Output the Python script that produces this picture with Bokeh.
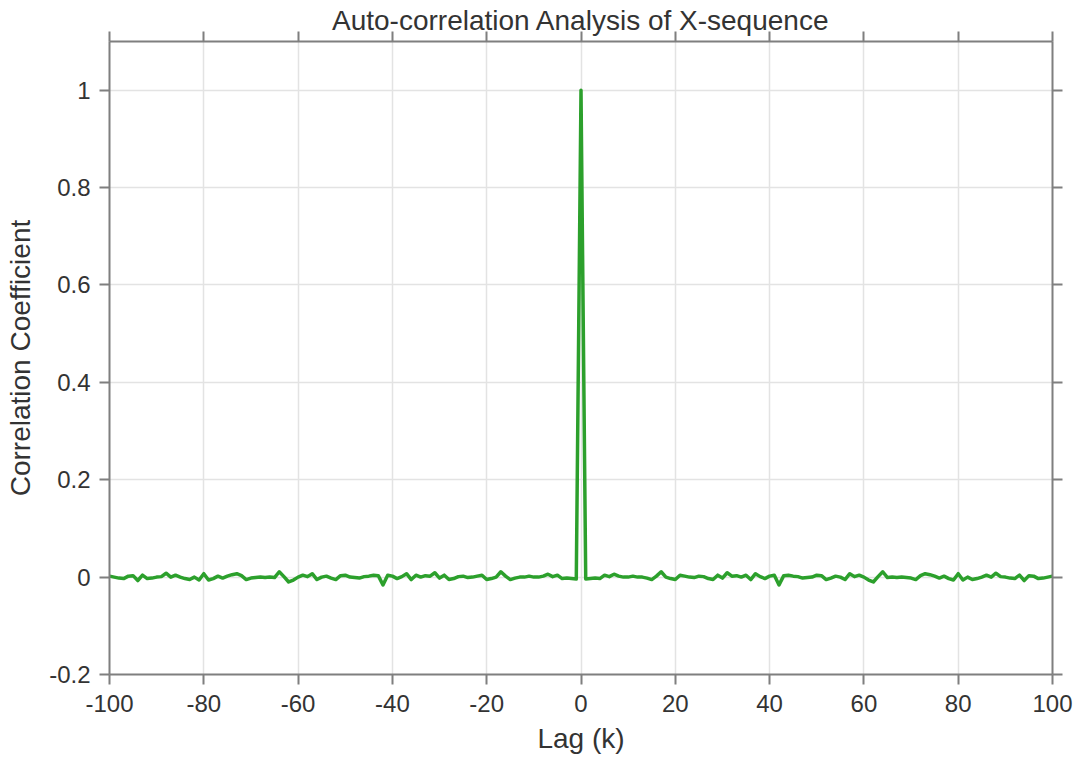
from bokeh.plotting import figure
from bokeh.models import LinearAxis, FixedTicker
from bokeh.embed import file_html
from bokeh.resources import INLINE

# ---- data ----
lags = list(range(-100, 101))
acf_neg = [0.002, 0.0, -0.002, -0.003, 0.002, 0.003, -0.007, 0.004, -0.003, -0.002,
           0.0, 0.001, 0.008, 0.0, 0.004, 0.0, -0.003, -0.005, 0.0, -0.006,
           0.007, -0.006, -0.003, 0.002, -0.002,
           0.002, 0.005, 0.007, 0.003, -0.005, -0.002, -0.001, 0.0, -0.001, 0.0,
           -0.001, 0.011, 0.001, -0.01, -0.006, 0.0, 0.004, 0.001, 0.007, -0.005,
           0.0, 0.002, -0.002, -0.005, 0.003,
           0.004, 0.0, -0.001, -0.002, 0.001, 0.002, 0.004, 0.003, -0.016, 0.004,
           0.002, -0.003, 0.001, 0.007, -0.005, 0.004, 0.0, 0.003, 0.002, 0.009,
           -0.002, 0.004, -0.005, -0.003, 0.001,
           0.002, -0.001, 0.0, 0.002, 0.004, -0.005, -0.003, 0.0, 0.011, 0.002,
           -0.005, -0.002, 0.0, 0.0, 0.002, 0.0, 0.0, 0.002, 0.006, 0.001,
           0.004, -0.003, -0.002, -0.003, -0.004]
acf_zero = [1.0]
acf_pos = [-0.004, -0.003, -0.002, -0.003, 0.004, 0.001, 0.006, 0.002, 0.0, 0.0,
           0.002, 0.0, 0.0, -0.002, -0.005, 0.002, 0.011, 0.0, -0.003, -0.005,
           0.004, 0.002, 0.0, -0.001, 0.002,
           0.001, -0.003, -0.005, 0.004, -0.002, 0.009, 0.002, 0.003, 0.0, 0.004,
           -0.005, 0.007, 0.001, -0.003, 0.002, 0.004, -0.016, 0.003, 0.004, 0.002,
           0.001, -0.002, -0.001, 0.0, 0.004,
           0.003, -0.005, -0.002, 0.002, 0.0, -0.005, 0.007, 0.001, 0.004, 0.0,
           -0.006, -0.01, 0.001, 0.011, -0.001, 0.0, -0.001, 0.0, -0.001, -0.002,
           -0.005, 0.003, 0.007, 0.005, 0.002,
           -0.002, 0.002, -0.003, -0.006, 0.007, -0.006, 0.0, -0.005, -0.003, 0.0,
           0.004, 0.0, 0.008, 0.001, 0.0, -0.002, -0.003, 0.004, -0.007, 0.003,
           0.002, -0.003, -0.002, 0.0, 0.002]
acf = acf_neg + acf_zero + acf_pos

x_ticks = [-100, -80, -60, -40, -20, 0, 20, 40, 60, 80, 100]
x_tick_labels = ["-100", "-80", "-60", "-40", "-20", "0", "20", "40", "60", "80", "100"]
y_ticks = [-0.2, 0, 0.2, 0.4, 0.6, 0.8, 1]
y_tick_labels = ["-0.2", "0", "0.2", "0.4", "0.6", "0.8", "1"]
title_text = "Auto-correlation Analysis of X-sequence"

FONT = "Liberation Sans"
TXT = "#333333"
AX = "#7f7f7f"

p = figure(width=1081, height=758, x_range=(-100, 100), y_range=(-0.2, 1.1),
           output_backend="svg", toolbar_location=None,
           title=title_text,
           x_axis_label="Lag (k)", y_axis_label="Correlation Coefficient",
           min_border_left=109, min_border_right=29, min_border_top=41,
           min_border_bottom=84)
p.outline_line_color = None
p.background_fill_color = "white"

p.title.text_font = FONT
p.title.text_font_size = "28px"
p.title.text_font_style = "normal"
p.title.text_color = TXT
p.title.align = "center"
p.title.standoff = -8

p.line(lags, acf, line_width=3.5, color="#2ca02c", line_join="round")

for ax in (p.xaxis[0], p.yaxis[0]):
    ax.axis_line_color = AX
    ax.axis_line_width = 2
    ax.major_tick_line_color = AX
    ax.major_tick_line_width = 2
    ax.major_tick_out = 10
    ax.major_tick_in = 0
    ax.minor_tick_out = 0
    ax.minor_tick_in = 0
    ax.major_label_text_font = FONT
    ax.major_label_text_font_size = "24px"
    ax.major_label_text_color = TXT
    ax.axis_label_text_font = FONT
    ax.axis_label_text_font_size = "28px"
    ax.axis_label_text_font_style = "normal"
    ax.axis_label_text_color = TXT

p.xaxis[0].ticker = FixedTicker(ticks=x_ticks)
p.yaxis[0].ticker = FixedTicker(ticks=y_ticks)
p.xaxis[0].major_label_overrides = dict(zip(x_ticks, x_tick_labels))
p.yaxis[0].major_label_overrides = dict(zip(y_ticks, y_tick_labels))
p.xaxis[0].major_label_standoff = 10
p.yaxis[0].major_label_standoff = 9
p.xaxis[0].axis_label_standoff = 8
p.yaxis[0].axis_label_standoff = 10

for loc, tk in (("above", x_ticks), ("right", y_ticks)):
    a = LinearAxis(ticker=FixedTicker(ticks=tk))
    a.axis_line_color = AX
    a.axis_line_width = 2
    a.major_tick_line_color = AX
    a.major_tick_line_width = 2
    a.major_tick_out = 10
    a.major_tick_in = 0
    a.minor_tick_out = 0
    a.minor_tick_in = 0
    a.major_label_overrides = {t: "" for t in tk}
    a.major_label_standoff = 0
    p.add_layout(a, loc)

p.xgrid.ticker = FixedTicker(ticks=x_ticks)
p.ygrid.ticker = FixedTicker(ticks=y_ticks)
p.xgrid.grid_line_color = "#e3e3e3"
p.ygrid.grid_line_color = "#e3e3e3"
p.xgrid.grid_line_width = 1.5
p.ygrid.grid_line_width = 1.5

open("out.html", "w").write(file_html(p, INLINE))
